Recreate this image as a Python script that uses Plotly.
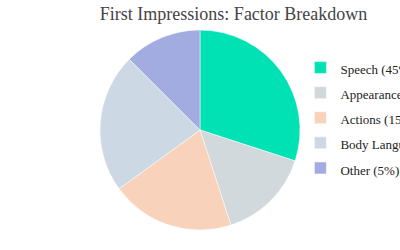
import plotly.graph_objects as go

labels = ["Speech (45%)", "Appearance (20%)", "Actions (15%)", "Body Language (15%)", "Other (5%)"]
values = [12, 6, 8, 9, 5]
colors = ["#00e1b4", "#d1d9dc", "#f9d2bc", "#cdd8e5", "#a3ace0"]

legend_labels = ['<span style="font-size:13px">%s</span>' % t for t in labels]

fig = go.Figure(go.Pie(
    labels=legend_labels,
    values=values,
    sort=False,
    direction="clockwise",
    rotation=0,
    textinfo="none",
    hoverinfo="label+value",
    marker=dict(colors=colors, line=dict(color="white", width=0.5)),
    domain=dict(x=[0, 1], y=[0, 1]),
))

fig.update_layout(
    width=400, height=250,
    margin=dict(l=0, r=0, t=30, b=20, autoexpand=False),
    paper_bgcolor="white",
    title=dict(text="First Impressions: Factor Breakdown", x=0.584, xanchor="center",
               y=0.945, yanchor="middle",
               font=dict(family="Liberation Serif", size=18, color="#444444")),
    legend=dict(x=0.751, y=0.9, xanchor="left", yanchor="top",
                font=dict(family="Liberation Serif", size=17, color="#222222")),
    showlegend=True,
)

fig.write_html("out.html")
